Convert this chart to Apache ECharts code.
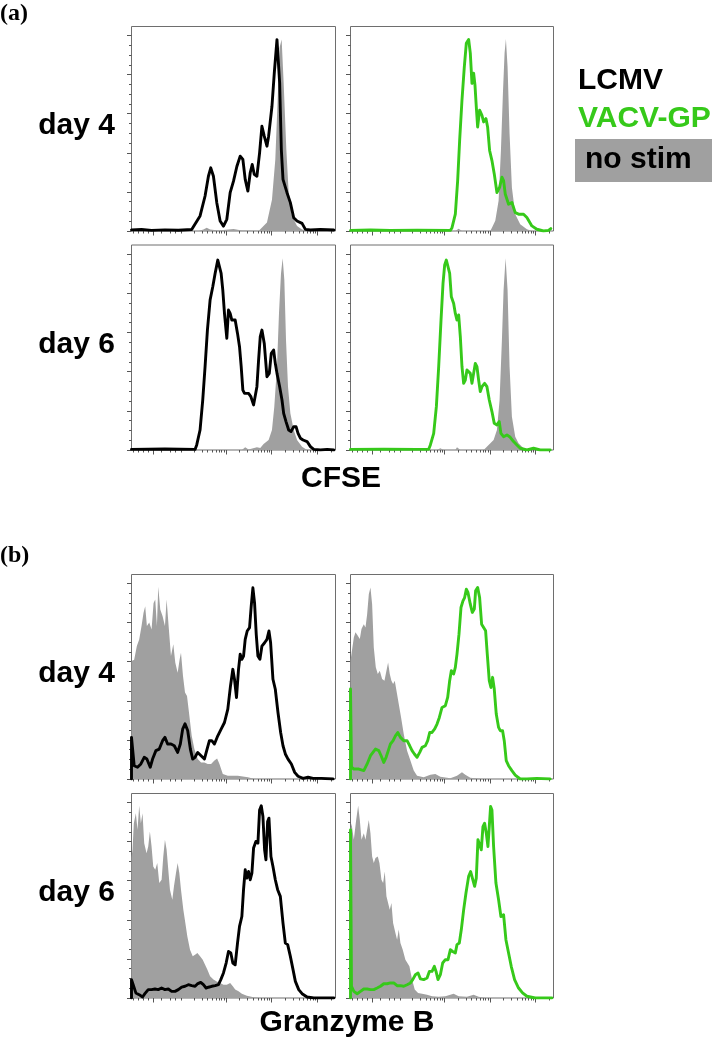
<!DOCTYPE html>
<html><head><meta charset="utf-8">
<script src="https://cdn.jsdelivr.net/npm/echarts@6/dist/echarts.min.js"></script>
<style>html,body{margin:0;padding:0;background:#fff}#c{width:721px;height:1050px}</style>
</head><body><div id="c"></div>
<script>
// ---- axis scales (display channel units on x, % of mode on y) ----
const X_MAX = 610;
const Y_MAX = 104.6;
const X_MAJOR_TICKS = [64, 282, 419, 556];
const X_MINOR_TICKS = [4, 19, 34, 49, 88, 115, 130, 148, 187, 211, 228, 241, 252, 261, 269, 276,
  323, 347, 364, 378, 389, 398, 406, 413, 460, 484, 502, 515, 526, 535, 543, 550, 597];
const Y_MAJOR_TICKS = [0, 20, 40, 60, 80, 100];
const Y_MINOR_TICKS = [5, 10, 15, 25, 30, 35, 45, 50, 55, 65, 70, 75, 85, 90, 95];

const ROW_LABELS = ['day 4', 'day 6', 'day 4', 'day 6'];
const SERIES_NAMES = ['LCMV', 'VACV-GP', 'no stim'];
const AXIS_TITLES = ['CFSE', 'Granzyme B'];
const PANEL_TAGS = ['(a)', '(b)'];

// ---- CFSE, day 4 ----
const CFSE_D4_LCMV = [[0,0.6],[30,0.8],[60,0.3],[100,0.6],[140,0.4],[180,0.8],[205,7.7],[220,17.9],[230,28],[237,32.3],[245,28],[255,14.5],[265,5.1],[275,2.5],[285,6],[295,19.6],[305,25.5],[315,33],[325,38.3],[333,36.6],[340,26.4],[348,20.4],[355,29.8],[361,34],[367,29],[375,28],[383,40],[390,53.6],[397,48.5],[405,43.4],[410,48.5],[420,63.8],[427,80.9],[435,97.9],[443,75.7],[448,41.7],[453,26.4],[465,19.6],[475,14.5],[485,6.8],[495,5.1],[510,3.9],[520,0.85],[535,0.5],[565,0.8],[605,0.5]];
const CFSE_D4_NOSTIM_L = [[0,0],[200,0],[215,0.8],[225,1.7],[235,0.8],[260,0.3],[305,1.0],[330,0.3],[380,0],[385,0.8],[405,4.3],[420,16],[430,36.6],[437,67],[443,94],[449,97.9],[455,75.7],[463,41.7],[470,19.6],[480,7.7],[495,2.5],[510,0.8],[530,0],[610,0]];
const CFSE_D4_VACV = [[0,0.3],[60,0.5],[120,0.3],[200,0.4],[300,0.3],[305,1.7],[315,8.6],[322,25.8],[328,46.4],[335,67],[342,84],[348,96],[355,98],[360,91],[365,75.5],[370,80.7],[374,74.7],[378,63.5],[382,53.2],[388,61.8],[395,59.2],[400,55.8],[407,57.5],[412,53.2],[418,41.2],[425,36],[432,29.2],[440,19.7],[448,22.3],[455,27.5],[460,25.8],[465,18.9],[475,13.7],[485,14.6],[495,9.4],[505,8.6],[520,8.6],[530,6.9],[545,2.6],[560,0.9],[580,0],[595,0.3],[602,1.2]];
const CFSE_D4_NOSTIM_V = [[0,0],[315,0],[325,1.2],[335,0],[375,0],[380,0.9],[390,0],[420,0],[425,1.7],[435,5.2],[445,15.5],[452,41.2],[458,70.4],[463,91],[467,98.2],[472,84],[478,49.8],[485,22.3],[495,8.6],[510,3.4],[530,0.9],[545,0],[610,0]];
// ---- CFSE, day 6 ----
const CFSE_D6_LCMV = [[0,0.3],[100,0.5],[190,0.3],[195,2.6],[205,10.2],[213,25.5],[220,42.5],[227,61.2],[235,76.5],[243,83.3],[250,90.1],[258,96.9],[263,97.8],[268,90.1],[273,81.6],[278,69.7],[285,57],[290,71.4],[295,69.7],[300,66.3],[310,66.3],[317,59.5],[323,52.7],[328,42.5],[333,30.6],[338,28.9],[350,28.9],[357,27.2],[365,23],[370,23.8],[375,32.3],[380,45.9],[385,57.8],[390,61.2],[397,54.4],[405,37.4],[412,39.1],[418,49.3],[425,51],[430,44.2],[435,39.1],[443,32.3],[450,25.5],[455,18.7],[462,14.5],[470,10.2],[477,9.4],[485,11.9],[492,11.9],[498,8.5],[505,6],[513,5.1],[525,4.3],[535,1.7],[545,0.3],[565,0],[585,0.3],[605,0]];
const CFSE_D6_NOSTIM_L = [[0,0],[330,0],[340,1.4],[350,0.3],[375,1.4],[385,1.0],[395,3],[410,5.1],[420,10.2],[427,22.1],[435,42.5],[441,69.7],[447,90.1],[452,97.8],[457,86.7],[462,56.1],[468,32.3],[475,18.7],[485,10.2],[495,5.1],[510,1.7],[525,0],[610,0]];
const CFSE_D6_VACV = [[0,0.3],[100,0.4],[200,0.3],[235,0.4],[240,2.6],[250,8.5],[258,22.1],[265,42.5],[272,66.3],[278,85],[283,94.4],[288,96.9],[293,97.8],[298,90.1],[303,78.2],[310,74.8],[315,69.7],[320,66.3],[325,68.9],[330,57.8],[335,42.5],[340,34],[345,35.7],[350,40.8],[355,41.7],[360,39.1],[365,34],[370,39.1],[375,44.2],[380,42.5],[385,35.7],[390,29.8],[395,32.3],[403,34],[410,32.3],[417,25.5],[425,19.6],[432,13.6],[440,12.8],[447,14.5],[452,8.5],[460,6.8],[470,7.7],[480,6.5],[490,4.3],[500,2.6],[510,0.9],[530,0],[550,0.9],[570,0],[600,0]];
const CFSE_D6_NOSTIM_V = [[0,0],[260,0],[270,0.9],[280,0],[315,0],[320,1.4],[330,0],[400,0],[415,2.6],[430,5.1],[440,10.2],[448,25.5],[455,56.1],[460,81.6],[466,97.8],[472,81.6],[478,42.5],[485,17],[495,6.8],[505,3.4],[520,0.9],[535,0],[610,0]];
// ---- Granzyme B, day 4 ----
const GZMB_D4_LCMV = [[0,0],[0,21.3],[3,21.3],[8,6.8],[18,6],[28,7.7],[38,11.1],[46,10.2],[56,6],[63,10.2],[73,14.5],[83,15.3],[93,19.6],[100,21.3],[108,17.9],[118,17.9],[128,17],[138,13.6],[146,17.9],[153,25.5],[160,28.2],[168,24.8],[176,15.3],[183,10.2],[190,11.1],[198,13.6],[208,11.9],[218,10.2],[226,15.3],[233,19.6],[240,19.6],[248,17.9],[258,22.1],[268,25.5],[278,28.9],[288,35.7],[296,47.6],[303,56.1],[308,51],[314,41.7],[320,56.1],[325,63.8],[330,61.2],[335,62.9],[340,71.4],[346,75.7],[353,77.4],[358,88.4],[363,97.8],[368,90],[373,74],[378,62.9],[384,61.2],[390,68],[398,69.7],[405,71.4],[411,75.7],[416,69.7],[423,51],[430,45.9],[438,34],[446,23.8],[453,17],[460,12.8],[468,10.2],[478,7.7],[488,3.4],[498,1.4],[513,0.3],[528,0.9],[543,0.3],[568,0.3],[603,0]];
const GZMB_D4_NOSTIM_L = [[0,60.4],[8,61],[16,68],[23,71.4],[30,78.2],[36,85],[41,88.4],[46,78.2],[53,80],[60,76.5],[66,90],[71,91.8],[76,78.2],[80,98.3],[86,86.7],[93,83.3],[100,78.2],[105,91.8],[111,78.2],[118,62.9],[125,68.9],[131,59.5],[138,54.4],[144,61.2],[148,64.6],[154,52.7],[160,44.2],[166,42.5],[173,32.3],[180,22.1],[188,15.3],[198,10.2],[208,8.5],[218,8.5],[228,7.7],[238,7.7],[248,9.4],[256,10.5],[263,7.7],[273,2.6],[288,1.7],[318,1.7],[348,0.9],[368,0],[610,0]];
const GZMB_D4_VACV = [[0,0],[0,46],[3,6],[10,5.1],[25,5.1],[40,4.3],[50,7.7],[60,11.9],[75,15.3],[85,14.5],[92,11.9],[100,8.5],[107,11.1],[115,15.3],[120,17.9],[128,19.6],[135,22.1],[142,23.8],[150,21.3],[160,19.6],[170,19.6],[178,17],[185,14.5],[192,12.8],[200,11.1],[208,13.6],[215,16.2],[225,17],[232,19.6],[238,23.8],[245,23.8],[253,25.6],[260,28.1],[267,31.5],[275,36.6],[285,37.5],[292,41.7],[298,50.3],[303,55.4],[310,53.7],[315,57.1],[320,63.9],[326,74.1],[332,87.7],[338,91.1],[343,92.8],[348,97.1],[353,95.4],[360,89.4],[366,85.2],[372,86.9],[376,96.3],[382,98],[388,92.8],[394,79.2],[400,80],[406,75.8],[411,63.9],[417,50.3],[422,46.8],[427,52],[432,46],[438,33.2],[445,26.4],[450,24.7],[457,24.7],[462,19.6],[468,9.4],[475,6.8],[485,4.3],[495,2],[510,0],[530,0],[560,0.3],[600,0]];
const GZMB_D4_NOSTIM_V = [[0,60.5],[10,72.4],[15,75],[22,73.3],[28,71.6],[33,76.7],[40,79.2],[45,77.5],[50,84.3],[55,94.5],[60,98],[65,89.4],[70,67.3],[76,57.1],[82,53.7],[88,55.4],[95,51.1],[102,50.3],[108,55.4],[113,59.6],[118,53.7],[123,50.3],[128,48.6],[133,50.3],[140,43.4],[145,38.3],[152,31.5],[160,23],[170,14.5],[180,9.4],[190,4.3],[200,1.7],[220,0.9],[240,2.2],[255,2.6],[270,1.2],[300,0.4],[320,1.7],[335,3.4],[345,2.2],[360,0.6],[380,0.3],[400,0],[610,0]];
// ---- Granzyme B, day 6 ----
const GZMB_D6_LCMV = [[0,0],[0,9.4],[5,6.8],[13,2.6],[23,1.7],[33,0.5],[40,2.2],[50,4.3],[60,4.3],[70,4.6],[80,4.3],[90,5.1],[100,4.3],[110,4.6],[120,3.4],[130,3.4],[140,4.3],[150,5.6],[160,6],[170,6.8],[180,6.3],[190,6],[197,7.2],[207,8],[215,6.8],[223,5.1],[230,5.5],[240,6],[250,6.3],[260,6.8],[267,9.4],[275,12.8],[283,17.9],[290,23.8],[297,23],[303,17.9],[310,17],[317,28.1],[323,36.6],[330,41.7],[335,55.4],[340,65.6],[345,61.3],[350,64.7],[355,60.5],[360,63.9],[365,76.7],[372,80.1],[378,79.2],[383,96.2],[388,98.3],[393,92.8],[398,75.8],[402,70.7],[407,90.3],[411,92],[417,72.4],[423,67.3],[430,60.5],[437,55.4],[445,52],[453,38.3],[460,28.1],[467,27.3],[475,21.3],[483,14.5],[490,8.5],[500,4.3],[510,2.2],[525,0.5],[545,0],[605,0]];
const GZMB_D6_NOSTIM_L = [[0,72],[3,75.8],[7,89.4],[13,94.5],[18,86],[23,98.3],[28,89.4],[33,94.5],[38,79.2],[45,74.1],[50,77.5],[55,85.2],[60,77.5],[65,67.3],[71,65.6],[77,69],[83,58.8],[90,60.5],[95,72.4],[100,80.9],[105,75.8],[110,65.6],[115,55.4],[122,50.3],[127,57.1],[133,63.9],[138,69],[143,63.9],[148,55.4],[155,45.1],[161,38.3],[167,31.5],[175,24.7],[183,21.3],[190,22.1],[197,23],[205,21.3],[213,19.6],[220,17],[227,14.5],[235,11.1],[245,9.4],[255,8.5],[265,7.7],[275,6.8],[285,6.8],[295,7.7],[303,6],[310,4.3],[320,3.4],[330,2.2],[345,1.2],[365,0.4],[385,0],[610,0]];
const GZMB_D6_VACV = [[0,0],[0,86],[3,6],[10,3.4],[20,2.2],[30,3.4],[40,4.6],[50,4.6],[60,4.3],[70,4.3],[80,5.1],[90,6],[100,7.3],[110,7.3],[120,7.7],[130,7.7],[140,6.3],[150,6.3],[160,6],[170,6.8],[180,7.7],[187,9.4],[195,11.9],[203,12.8],[210,9.8],[220,9.4],[230,10.2],[237,13.6],[245,13.6],[252,16.2],[257,13.6],[263,9.4],[270,11.9],[277,17.9],[285,19.6],[293,19.6],[300,24.7],[307,23.8],[315,23],[320,27.3],[327,28.1],[333,35],[340,45.1],[347,53.7],[355,62.2],[361,64.7],[367,63.9],[373,57.1],[378,61.3],[383,81],[388,81],[393,75.8],[398,87.7],[403,89.4],[408,84.3],[413,77.5],[417,87.7],[421,98],[425,96.2],[430,77.5],[437,58.8],[445,50.3],[452,41.7],[460,42.6],[467,29.8],[475,23],[483,16.2],[493,9.4],[505,5.1],[517,2.6],[530,0.9],[555,0],[605,0]];
const GZMB_D6_NOSTIM_V = [[0,86],[3,89.4],[10,81],[17,91.1],[23,98.3],[28,91.1],[33,81],[40,84.3],[45,81],[50,86],[55,91.1],[60,84.3],[65,72.4],[70,69],[75,71.6],[82,72.4],[87,69],[93,60.5],[98,58.8],[103,64.7],[108,52],[113,48.6],[118,45.1],[123,48.6],[128,38.3],[135,33.2],[140,29.8],[145,35],[150,28.1],[157,24.7],[165,19.6],[170,19.6],[177,16.2],[185,9.4],[193,4.3],[203,2.6],[215,2.2],[230,1.7],[245,0.9],[265,0.6],[285,0.9],[310,2.2],[325,0.9],[350,0.6],[370,1.7],[385,0.6],[405,0],[610,0]];

// ---- layout ----
const COL_LEFT = [131.5, 350.5], COL_W = [204, 203];
const ROW_TOP = [26.5, 245, 574.5, 793.5], ROW_H = [204.5, 205, 204.5, 204.5];
const BLACK = '#000000', GREEN = '#36c91a', GRAY = '#a0a0a0';
const FONT = '"Liberation Sans", Arial, Helvetica, sans-serif';

const PANELS = [
  {r:0,c:0,line:CFSE_D4_LCMV,fill:CFSE_D4_NOSTIM_L,color:BLACK},
  {r:0,c:1,line:CFSE_D4_VACV,fill:CFSE_D4_NOSTIM_V,color:GREEN},
  {r:1,c:0,line:CFSE_D6_LCMV,fill:CFSE_D6_NOSTIM_L,color:BLACK},
  {r:1,c:1,line:CFSE_D6_VACV,fill:CFSE_D6_NOSTIM_V,color:GREEN},
  {r:2,c:0,line:GZMB_D4_LCMV,fill:GZMB_D4_NOSTIM_L,color:BLACK},
  {r:2,c:1,line:GZMB_D4_VACV,fill:GZMB_D4_NOSTIM_V,color:GREEN},
  {r:3,c:0,line:GZMB_D6_LCMV,fill:GZMB_D6_NOSTIM_L,color:BLACK},
  {r:3,c:1,line:GZMB_D6_VACV,fill:GZMB_D6_NOSTIM_V,color:GREEN}
];

const grid = [], xAxis = [], yAxis = [], series = [];
const tickColor = '#555';
PANELS.forEach((p, i) => {
  grid.push({left: COL_LEFT[p.c], top: ROW_TOP[p.r], width: COL_W[p.c], height: ROW_H[p.r],
    show: true, borderColor: '#6e6e6e', borderWidth: 1, backgroundColor: '#fff'});
  [[X_MAJOR_TICKS, 4.5], [X_MINOR_TICKS, 2.5]].forEach(([vals, len]) => {
    xAxis.push({type: 'value', gridIndex: i, min: 0, max: X_MAX, position: 'bottom',
      axisLine: {show: false}, splitLine: {show: false}, axisLabel: {show: false},
      axisTick: {show: true, inside: false, length: len, customValues: vals, lineStyle: {color: tickColor, width: 1}}});
  });
  [[Y_MAJOR_TICKS, 4.5], [Y_MINOR_TICKS, 2.5]].forEach(([vals, len]) => {
    yAxis.push({type: 'value', gridIndex: i, min: 0, max: Y_MAX, position: 'left',
      axisLine: {show: false}, splitLine: {show: false}, axisLabel: {show: false},
      axisTick: {show: true, inside: false, length: len, customValues: vals, lineStyle: {color: tickColor, width: 1}}});
  });
  series.push({name: SERIES_NAMES[2], type: 'line', xAxisIndex: 2*i, yAxisIndex: 2*i, data: p.fill,
    symbol: 'none', silent: true, z: 1, lineStyle: {width: 0}, itemStyle: {color: GRAY},
    areaStyle: {color: GRAY, opacity: 1}});
  series.push({name: SERIES_NAMES[p.c], type: 'line', xAxisIndex: 2*i, yAxisIndex: 2*i, data: p.line,
    symbol: 'none', silent: true, z: 2, lineStyle: {width: 2.9, color: p.color, join: 'round', cap: 'round'}, itemStyle: {color: p.color}});
});

const txt = (x, y, text, opts) => ({type: 'text', x, y, style: Object.assign({text, font: 'bold 30px ' + FONT, fill: '#000', align: 'left', verticalAlign: 'middle'}, opts || {})});
const graphic = [
  txt(0, 14, PANEL_TAGS[0], {font: 'bold 24px "Liberation Serif", "Times New Roman", serif'}),
  txt(0, 556, PANEL_TAGS[1], {font: 'bold 24px "Liberation Serif", "Times New Roman", serif'}),
  txt(341, 479, AXIS_TITLES[0], {align: 'center'}),
  txt(347, 1023, AXIS_TITLES[1], {align: 'center'})
];
ROW_LABELS.forEach((t, r) => graphic.push(txt(115, ROW_TOP[r] + ROW_H[r]/2 - 3, t, {align: 'right'})));
graphic.push(txt(578, 81, SERIES_NAMES[0], {fill: BLACK}));
graphic.push(txt(578, 119, SERIES_NAMES[1], {fill: GREEN}));
graphic.push({type: 'rect', shape: {x: 575, y: 139, width: 137, height: 43}, style: {fill: GRAY}});
graphic.push(txt(585, 160, SERIES_NAMES[2], {fill: '#000'}));

const chart = echarts.init(document.getElementById('c'), null, {renderer: 'canvas'});
chart.setOption({animation: false, backgroundColor: '#fff', grid, xAxis, yAxis, series, graphic});
</script></body></html>
